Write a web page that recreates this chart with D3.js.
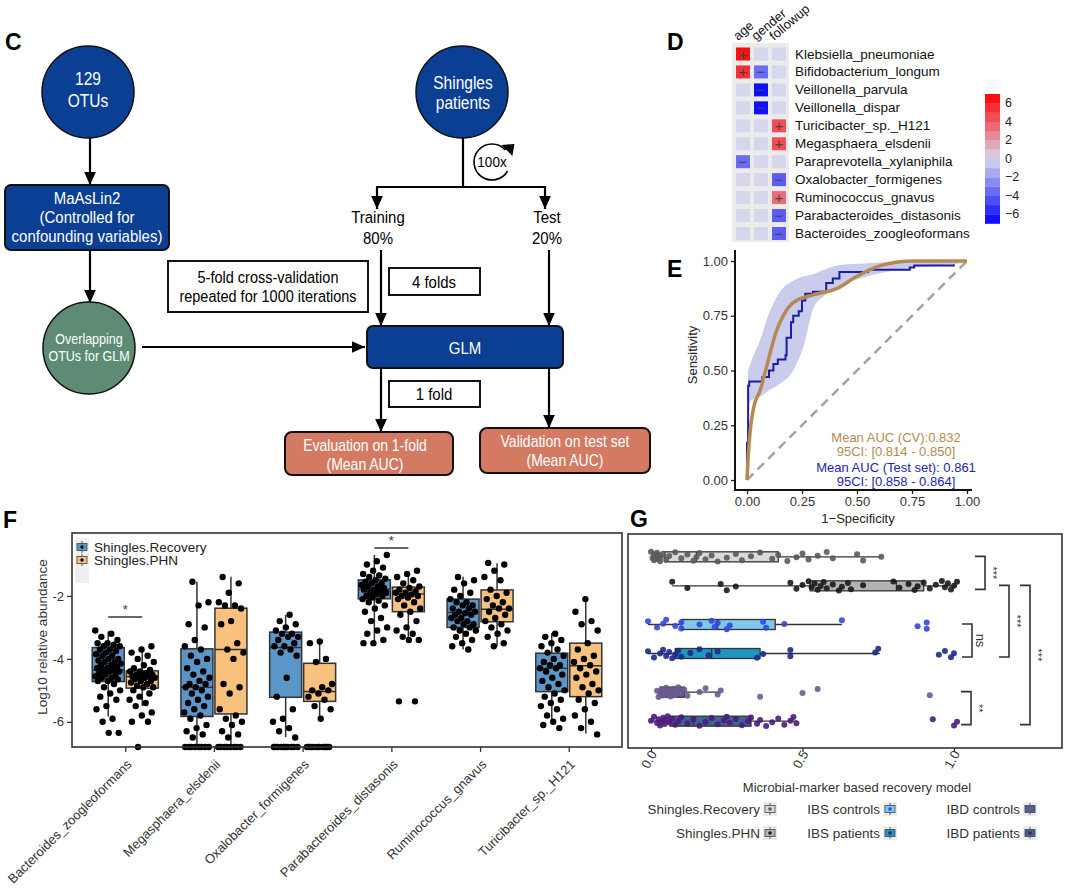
<!DOCTYPE html>
<html><head><meta charset="utf-8">
<script src="https://cdn.jsdelivr.net/npm/d3@7"></script>
<style>body{margin:0;background:#fff}svg{display:block}text{font-family:Arial,"Liberation Sans",sans-serif}</style>
</head><body><svg id="c" width="1080" height="891"></svg>
<script>
// ================= DATA =================
// Panel D heatmap
const hmRows = ["Klebsiella_pneumoniae","Bifidobacterium_longum","Veillonella_parvula","Veillonella_dispar","Turicibacter_sp._H121","Megasphaera_elsdenii","Paraprevotella_xylaniphila","Oxalobacter_formigenes","Ruminococcus_gnavus","Parabacteroides_distasonis","Bacteroides_zoogleoformans"];
const hmCols = ["age","gender","followup"];
const hmAge = [6.5,5.5,0,0,0,0,-3.5,0,0,0,0];
const hmGender = [0,-3.5,-6.5,-6.5,0,0,0,0,0,0,0];
const hmFollowup = [0,0,0,0,4.5,4.5,0,-4,3.5,-4,-4];
const hmLegendTicks = [6,4,2,0,-2,-4,-6];

// Panel E ROC
const rocTicks = [0,0.25,0.5,0.75,1];
const ciFpr  = [0.005,0.015,0.06,0.10,0.15,0.21,0.26,0.30,0.35,0.41,0.55,0.76,0.97,1.0];
const ciLow  = [0.33,0.36,0.38,0.41,0.44,0.50,0.62,0.78,0.84,0.88,0.93,0.97,0.99,1.0];
const ciHigh = [0.50,0.53,0.64,0.76,0.86,0.91,0.93,0.94,0.96,0.98,0.99,1.0,1.0,1.0];
const testFpr = [0,0,0.005,0.01,0.07,0.10,0.12,0.14,0.175,0.18,0.20,0.21,0.235,0.25,0.265,0.30,0.36,0.39,0.42,0.55,0.74,0.76,0.94];
const testTpr = [0,0.17,0.43,0.45,0.47,0.50,0.53,0.55,0.57,0.65,0.72,0.75,0.77,0.82,0.85,0.86,0.90,0.92,0.95,0.96,0.97,0.98,0.985];
const cvFpr = [0,0.005,0.015,0.03,0.06,0.10,0.13,0.17,0.21,0.30,0.41,0.50,0.61,0.76,1.0];
const cvTpr = [0,0.10,0.23,0.33,0.41,0.56,0.67,0.76,0.81,0.845,0.875,0.93,0.98,1.0,1.0];

// Panel F boxplots
const fCats = ["Bacteroides_zoogleoformans","Megasphaera_elsdenii","Oxalobacter_formigenes","Parabacteroides_distasonis","Ruminococcus_gnavus","Turicibacter_sp._H121"];
const fTicks = [-2,-4,-6];
// [lowerWhisker, q1, median, q3, upperWhisker]
const fRecStats = [[-5.83,-4.72,-4.35,-3.64,-3.13],[-6.8,-5.83,-4.9,-3.68,-1.55],[-6.49,-5.22,-3.64,-3.15,-2.6],[-3.48,-2.09,-1.79,-1.49,-0.7],[-3.7,-3.0,-2.53,-2.1,-1.39],[-6.05,-5.04,-4.3,-3.82,-3.18]];
const fPhnStats = [[-5.5,-4.93,-4.56,-4.38,-3.62],[-6.8,-5.75,-3.7,-2.39,-1.39],[-5.94,-5.35,-5.04,-4.14,-3.45],[-3.4,-2.5,-1.94,-1.72,-1.23],[-3.6,-2.82,-2.42,-1.81,-0.96],[-6.37,-5.2,-4.22,-3.5,-2.13]];
const fRecPoints = [
 [-3.1,-3.2,-3.3,-3.4,-3.5,-3.5,-3.55,-3.6,-3.6,-3.7,-3.7,-3.75,-3.8,-3.85,-3.9,-3.9,-4.0,-4.0,-4.05,-4.1,-4.1,-4.15,-4.2,-4.2,-4.25,-4.3,-4.3,-4.35,-4.35,-4.4,-4.4,-4.45,-4.5,-4.5,-4.55,-4.6,-4.6,-4.65,-4.7,-4.7,-4.8,-4.9,-5.0,-5.1,-5.2,-5.3,-5.5,-5.6,-5.9,-6.0,-6.35,-6.35],
 [-1.55,-2.2,-2.3,-2.9,-3.0,-3.4,-3.6,-3.7,-3.9,-4.0,-4.1,-4.3,-4.4,-4.5,-4.6,-4.7,-4.8,-4.8,-4.9,-4.9,-5.0,-5.1,-5.2,-5.3,-5.4,-5.5,-5.6,-5.7,-5.8,-5.9,-6.1,-6.2,-6.3,-6.4,-6.5,-6.8,-6.8,-6.8,-6.8,-6.8,-6.8,-6.8,-6.8],
 [-2.6,-2.8,-2.9,-3.0,-3.1,-3.2,-3.2,-3.3,-3.3,-3.4,-3.5,-3.6,-3.6,-3.7,-3.8,-3.9,-4.6,-5.2,-5.6,-5.9,-6.0,-6.2,-6.3,-6.5,-6.8,-6.8,-6.8,-6.8,-6.8,-6.8,-6.8,-6.8,-6.8,-6.8],
 [-0.7,-0.9,-1.0,-1.1,-1.2,-1.3,-1.35,-1.4,-1.45,-1.5,-1.55,-1.6,-1.6,-1.65,-1.7,-1.7,-1.75,-1.8,-1.8,-1.85,-1.9,-1.9,-1.95,-2.0,-2.0,-2.05,-2.1,-2.15,-2.2,-2.3,-2.4,-2.5,-2.7,-2.8,-3.0,-3.1,-3.2,-3.4,-3.5,-3.5],
 [-1.4,-1.5,-1.6,-1.8,-1.9,-2.0,-2.1,-2.2,-2.2,-2.3,-2.3,-2.4,-2.4,-2.5,-2.5,-2.55,-2.6,-2.6,-2.7,-2.7,-2.8,-2.8,-2.9,-2.9,-3.0,-3.0,-3.1,-3.1,-3.2,-3.3,-3.4,-3.5,-3.6,-3.7],
 [-3.2,-3.3,-3.4,-3.5,-3.6,-3.7,-3.8,-3.9,-4.0,-4.1,-4.2,-4.2,-4.3,-4.3,-4.4,-4.5,-4.6,-4.7,-4.8,-4.9,-5.0,-5.1,-5.2,-5.3,-5.4,-5.5,-5.6,-5.8,-5.9,-6.0,-6.1,-6.2]
];
const fPhnPoints = [
 [-3.6,-3.7,-3.8,-3.9,-4.0,-4.1,-4.2,-4.3,-4.35,-4.4,-4.4,-4.45,-4.5,-4.5,-4.5,-4.55,-4.55,-4.6,-4.6,-4.6,-4.65,-4.7,-4.7,-4.75,-4.8,-4.85,-4.9,-4.9,-5.0,-5.1,-5.2,-5.3,-5.4,-5.5,-5.7,-5.8,-6.0,-6.0,-6.8],
 [-1.4,-1.6,-1.9,-2.2,-2.3,-2.3,-2.4,-2.8,-2.9,-3.5,-3.7,-3.8,-4.0,-4.8,-4.9,-5.1,-5.6,-5.8,-5.9,-6.0,-6.1,-6.3,-6.4,-6.5,-6.8,-6.8,-6.8,-6.8,-6.8,-6.8,-6.8,-6.8],
 [-3.45,-3.5,-4.0,-4.1,-4.8,-4.9,-5.0,-5.0,-5.1,-5.2,-5.3,-5.5,-5.6,-5.9,-6.8,-6.8,-6.8,-6.8,-6.8,-6.8,-6.8,-6.8,-6.8,-6.8],
 [-1.2,-1.3,-1.4,-1.5,-1.6,-1.7,-1.75,-1.8,-1.85,-1.9,-1.9,-1.95,-2.0,-2.0,-2.05,-2.1,-2.2,-2.3,-2.4,-2.5,-2.6,-2.8,-3.0,-3.1,-3.2,-3.3,-3.4,-3.4,-5.35,-5.35],
 [-0.95,-1.0,-1.2,-1.4,-1.5,-1.8,-1.9,-2.0,-2.1,-2.2,-2.3,-2.4,-2.4,-2.5,-2.6,-2.7,-2.8,-2.9,-3.0,-3.1,-3.2,-3.3,-3.5,-3.6],
 [-2.1,-2.5,-2.8,-2.9,-3.1,-3.5,-3.7,-3.9,-4.0,-4.1,-4.2,-4.3,-4.4,-4.5,-4.6,-4.8,-4.9,-5.0,-5.1,-5.3,-5.4,-5.6,-5.8,-6.0,-6.2,-6.4]
];
const fGroups = ["Shingles.Recovery","Shingles.PHN"];

// Panel G
const gNames = ["Shingles.Recovery","Shingles.PHN","IBS controls","IBS patients","IBD controls","IBD patients"];
const gCategory = ["Shingles","Shingles","IBS","IBS","IBD","IBD"];
const gTicks = [0,0.5,1.0];
// [lowerWhisker, q1, median, q3, upperWhisker]
const gStats = [[0.0,0.046,0.15,0.42,0.76],[0.07,0.525,0.81,0.90,1.01],[-0.01,0.10,0.22,0.41,0.63],[-0.01,0.08,0.20,0.36,0.755],[0.02,0.03,0.07,0.11,0.23],[0.0,0.063,0.14,0.33,0.48]];
const gPoints = [
 [0.0,0.005,0.01,0.01,0.015,0.02,0.02,0.025,0.03,0.03,0.04,0.05,0.06,0.08,0.10,0.12,0.14,0.15,0.16,0.18,0.20,0.22,0.25,0.28,0.30,0.33,0.36,0.40,0.42,0.45,0.48,0.50,0.52,0.55,0.58,0.60,0.68,0.70,0.76],
 [0.07,0.12,0.23,0.25,0.28,0.46,0.48,0.50,0.52,0.53,0.54,0.55,0.56,0.57,0.58,0.60,0.62,0.63,0.65,0.66,0.70,0.80,0.82,0.85,0.87,0.88,0.90,0.92,0.94,0.96,0.97,0.98,0.99,1.0,1.01],
 [-0.01,0.02,0.04,0.05,0.08,0.10,0.10,0.16,0.20,0.21,0.22,0.25,0.26,0.37,0.38,0.44,0.63,0.88,0.91,0.91],
 [-0.01,0.01,0.03,0.04,0.05,0.06,0.07,0.08,0.09,0.10,0.13,0.16,0.19,0.22,0.35,0.37,0.46,0.46,0.74,0.75,0.95,0.97,0.99,1.0],
 [0.02,0.025,0.03,0.035,0.04,0.045,0.05,0.055,0.06,0.065,0.07,0.075,0.08,0.085,0.09,0.10,0.11,0.12,0.16,0.18,0.22,0.23,0.36,0.50,0.55,0.92],
 [0.0,0.01,0.02,0.025,0.03,0.035,0.04,0.045,0.05,0.055,0.06,0.07,0.08,0.09,0.10,0.12,0.14,0.16,0.18,0.20,0.22,0.24,0.25,0.26,0.28,0.30,0.32,0.33,0.35,0.36,0.38,0.40,0.42,0.44,0.46,0.47,0.48,0.93,1.0,1.01]
];
// brackets: [fromGroupIndex, toGroupIndex, label]
const gSig = [[0,1,"***"],[1,3,"***"],[1,5,"***"],[2,3,"ns"],[4,5,"**"]];

// ================= DRAW =================
const svg = d3.select("#c");
const BLUE="#0a3f94", GREEN="#5e8b74", SALMON="#d47a62";
const defs = svg.append("defs");
defs.append("marker").attr("id","ah").attr("viewBox","0 0 10 10").attr("refX",10).attr("refY",5)
  .attr("markerWidth",13).attr("markerHeight",13).attr("markerUnits","userSpaceOnUse").attr("orient","auto")
  .append("path").attr("d","M0,0.5L10,5L0,9.5Z").attr("fill","#000");

function label(x,y,s){svg.append("text").attr("x",x).attr("y",y).attr("font-size",23).attr("font-weight","bold").attr("fill","#000").text(s);}
function arrow(x1,y1,x2,y2){svg.append("line").attr("x1",x1).attr("y1",y1).attr("x2",x2).attr("y2",y2).attr("stroke","#000").attr("stroke-width",2.2).attr("marker-end","url(#ah)");}
// flowchart text is slightly stretched vertically, as in the reference figure
function lines(x,ys,arr,size,fill){arr.forEach((s,i)=>svg.append("text").attr("transform",`translate(${x},${ys[i]}) scale(1,1.14)`).attr("text-anchor","middle").attr("dominant-baseline","central").attr("font-size",size).attr("fill",fill).text(s));}
function node(x,y,w,h,fill,stroke,r){svg.append("rect").attr("x",x).attr("y",y).attr("width",w).attr("height",h).attr("rx",r).attr("fill",fill).attr("stroke",stroke).attr("stroke-width",2);}

// ---- Panel C
label(5,50,"C");
svg.append("circle").attr("cx",88).attr("cy",92).attr("r",46).attr("fill",BLUE).attr("stroke","#111").attr("stroke-width",1.5);
lines(88,[79,101],["129","OTUs"],15.5,"#fff");
arrow(90,138,90,185);
node(5,185,164,65,BLUE,"#111",6);
lines(87,[198,217,236],["MaAsLin2","(Controlled for","confounding variables)"],15,"#fff");
arrow(90,250,90,303);
svg.append("circle").attr("cx",89).attr("cy",348).attr("r",46).attr("fill",GREEN).attr("stroke","#111").attr("stroke-width",1.5);
lines(89,[339,356],["Overlapping","OTUs for GLM"],12.5,"#fff");
arrow(142,347,365,347);

svg.append("circle").attr("cx",462).attr("cy",92).attr("r",46).attr("fill",BLUE).attr("stroke","#111").attr("stroke-width",1.5);
lines(463,[83,103],["Shingles","patients"],15.5,"#fff");
svg.append("line").attr("x1",463).attr("y1",138).attr("x2",463).attr("y2",187).attr("stroke","#000").attr("stroke-width",2.2);
svg.append("line").attr("x1",376).attr("y1",187).attr("x2",546).attr("y2",187).attr("stroke","#000").attr("stroke-width",2.2);
arrow(377,186,377,209);
arrow(545,186,545,209);
// rotation icon
(function(){const cx=492,cy=162,r=18,a0=30*Math.PI/180,a1=318*Math.PI/180;
 svg.append("path").attr("d",`M${cx+r*Math.cos(a0)},${cy+r*Math.sin(a0)}A${r},${r} 0 1 1 ${cx+r*Math.cos(a1)},${cy+r*Math.sin(a1)}`)
  .attr("fill","none").attr("stroke","#000").attr("stroke-width",1.6);
 const ex=cx+r*Math.cos(a1), ey=cy+r*Math.sin(a1);
 svg.append("path").attr("d",`M${ex+7},${ey+6}L${ex-4},${ey-5}L${ex+9},${ey-6}Z`).attr("fill","#000");
 lines(cx,[cy],["100x"],13.5,"#000");})();
lines(378,[217,238],["Training","80%"],15,"#000");
lines(547,[217,238],["Test","20%"],15,"#000");
arrow(381,250,381,326);
arrow(549,250,549,326);
node(168,261,200,51,"#fff","#111",0);
lines(268,[277,296],["5-fold cross-validation","repeated for 1000 iterations"],14.5,"#000");
node(389,268,91,27,"#fff","#111",0);
lines(434,[282],["4 folds"],15,"#000");
node(367,326,196,42,BLUE,"#111",6);
lines(465,[348],["GLM"],15,"#fff");
arrow(381,368,381,432);
arrow(549,368,549,428);
node(389,381,91,26,"#fff","#111",0);
lines(434,[394],["1 fold"],15,"#000");
node(285,432,168,43,SALMON,"#111",7);
lines(365,[445,464],["Evaluation on 1-fold","(Mean AUC)"],14,"#fff");
node(480,428,170,45,SALMON,"#111",7);
lines(565,[441,460],["Validation on test set","(Mean AUC)"],14,"#fff");

// ---- Panel D heatmap
label(667,50,"D");
const hmVals = hmRows.map((r,i)=>[hmAge[i],hmGender[i],hmFollowup[i]]);
const hx = d3.scalePoint().domain(hmCols).range([743,779]);
const hy = d3.scalePoint().domain(hmRows).range([54,233.5]);
const hcol = d3.scaleLinear().domain([-7,0,7]).range(["#0000ff","#d6d7ed","#ff0000"]);
svg.append("rect").attr("x",732).attr("y",43).attr("width",57).attr("height",199).attr("fill","#ebebeb");
const hg = svg.append("g");
hmRows.forEach((r,i)=>hmCols.forEach((c,j)=>{
  const v=hmVals[i][j];
  hg.append("rect").attr("x",hx(c)-7).attr("y",hy(r)-6.5).attr("width",14).attr("height",13).attr("fill",hcol(v));
  if(v!==0) hg.append("text").attr("x",hx(c)).attr("y",hy(r)).attr("text-anchor","middle").attr("dominant-baseline","central")
     .attr("font-size",15).attr("fill","#444").text(v>0?"+":"\u2212");
}));
hmRows.forEach(r=>svg.append("text").attr("x",795).attr("y",hy(r)).attr("dominant-baseline","central").attr("font-size",13.5).attr("fill","#111").text(r));
hmCols.forEach(c=>svg.append("text").attr("transform",`translate(${hx(c)-5},41) rotate(-40)`).attr("font-size",13).attr("fill","#111").text(c));
// legend
const ly = d3.scaleLinear().domain([-7,7]).range([223.5,94]);
d3.range(-7,7).forEach(b=>svg.append("rect").attr("x",985).attr("y",ly(b+1)).attr("width",15).attr("height",ly(b)-ly(b+1)+0.3).attr("fill",hcol(b+0.5)));
hmLegendTicks.forEach(t=>svg.append("text").attr("x",1005).attr("y",ly(t)).attr("dominant-baseline","central").attr("font-size",12.5).attr("fill","#222").text(t<0?"\u2212"+(-t):t));

// ---- Panel E ROC
label(667,277,"E");
const ex = d3.scaleLinear().domain([0,1]).range([747,967]);
const ey = d3.scaleLinear().domain([0,1]).range([480,261]);
const ciData = ciFpr.map((f,i)=>({f,lo:ciLow[i],hi:ciHigh[i]}));
svg.append("path").datum(ciData).attr("d",d3.area().x(d=>ex(d.f)).y0(d=>ey(d.lo)).y1(d=>ey(d.hi)).curve(d3.curveMonotoneX))
  .attr("fill","#c6c9ea").attr("opacity",0.95);
svg.append("line").attr("x1",ex(0)).attr("y1",ey(0)).attr("x2",ex(1)).attr("y2",ey(1)).attr("stroke","#a3a3a3").attr("stroke-width",2.5).attr("stroke-dasharray","9,6");
svg.append("path").datum(testFpr.map((f,i)=>[f,testTpr[i]])).attr("d",d3.line().x(d=>ex(d[0])).y(d=>ey(d[1])).curve(d3.curveStepAfter))
  .attr("fill","none").attr("stroke","#1c1ca6").attr("stroke-width",2);
svg.append("path").datum(cvFpr.map((f,i)=>[f,cvTpr[i]])).attr("d",d3.line().x(d=>ex(d[0])).y(d=>ey(d[1])).curve(d3.curveMonotoneX))
  .attr("fill","none").attr("stroke","#b5894f").attr("stroke-width",3.5);
const eAxX = svg.append("g").attr("transform","translate(0,490)").call(d3.axisBottom(ex).tickValues(rocTicks).tickFormat(d3.format(".2f")).tickSize(4).tickSizeOuter(0));
const eAxY = svg.append("g").attr("transform","translate(735,0)").call(d3.axisLeft(ey).tickValues(rocTicks).tickFormat(d3.format(".2f")).tickSize(4).tickSizeOuter(0));
[eAxX,eAxY].forEach(a=>{a.select(".domain").remove();a.selectAll("text").attr("font-size",13).attr("fill","#333").attr("font-family",null);a.selectAll("line").attr("stroke","#222").attr("stroke-width",1.3);});
svg.append("line").attr("x1",735).attr("y1",250).attr("x2",735).attr("y2",491).attr("stroke","#111").attr("stroke-width",2);
svg.append("line").attr("x1",734).attr("y1",490).attr("x2",972).attr("y2",490).attr("stroke","#111").attr("stroke-width",2);
svg.append("text").attr("transform","translate(692,355) rotate(-90)").attr("text-anchor","middle").attr("dominant-baseline","central").attr("font-size",13).attr("fill","#222").text("Sensitivity");
svg.append("text").attr("x",858).attr("y",518).attr("text-anchor","middle").attr("dominant-baseline","central").attr("font-size",13).attr("fill","#222").text("1\u2212Specificity");
[["Mean AUC (CV):0.832","#b5894f",437],["95CI: [0.814 - 0.850]","#b5894f",451],["Mean AUC (Test set): 0.861","#2424b0",467],["95CI: [0.858 - 0.864]","#2424b0",481]]
 .forEach(d=>svg.append("text").attr("x",896).attr("y",d[2]).attr("text-anchor","middle").attr("dominant-baseline","central").attr("font-size",13).attr("fill",d[1]).text(d[0]));

// ---- Panel F
label(3,528,"F");
const fx = d3.scalePoint().domain(fCats).range([72,622]).padding(0.6);
const fy = d3.scaleLinear().domain([-6.8,0]).range([747,533]);
const FCOL=["#5b96c9","#f8c27e"];
const fg = svg.append("g");
const jit = i => (((i*0.6180339887)%1)-0.5);
function fBox(stats,cx,fill){
  const [lo,q1,md,q3,hi]=stats, w=32;
  fg.append("line").attr("x1",cx).attr("x2",cx).attr("y1",fy(hi)).attr("y2",fy(lo)).attr("stroke","#333").attr("stroke-width",1.5);
  fg.append("rect").attr("x",cx-w/2).attr("y",fy(q3)).attr("width",w).attr("height",fy(q1)-fy(q3)).attr("fill",fill).attr("stroke","#333").attr("stroke-width",1.5);
  fg.append("line").attr("x1",cx-w/2).attr("x2",cx+w/2).attr("y1",fy(md)).attr("y2",fy(md)).attr("stroke","#333").attr("stroke-width",1.5);
}
fCats.forEach((c,k)=>{
  fBox(fRecStats[k],fx(c)-17,FCOL[0]);
  fBox(fPhnStats[k],fx(c)+17,FCOL[1]);
});
fCats.forEach((c,k)=>{
  [[fRecPoints[k],-17],[fPhnPoints[k],17]].forEach(([pts,off],gi)=>{
    pts.forEach((v,i)=>fg.append("circle").attr("cx",fx(c)+off+jit(i+k*7+gi*3)*26).attr("cy",fy(v)).attr("r",3.2).attr("fill","#000"));
  });
});
svg.append("rect").attr("x",72).attr("y",533).attr("width",550).attr("height",214).attr("fill","none").attr("stroke","#333").attr("stroke-width",1.6);
const fAxY = svg.append("g").attr("transform","translate(72,0)").call(d3.axisLeft(fy).tickValues(fTicks).tickFormat(d=>String(d)).tickSize(5).tickSizeOuter(0));
const fAxX = svg.append("g").attr("transform","translate(0,747)").call(d3.axisBottom(fx).tickSize(5).tickSizeOuter(0).tickFormat(""));
[fAxY,fAxX].forEach(a=>{a.select(".domain").remove();a.selectAll("line").attr("stroke","#333").attr("stroke-width",1.3);a.selectAll("text").attr("font-size",13).attr("fill","#333").attr("font-family",null);});
fCats.forEach(c=>svg.append("text").attr("transform",`translate(${fx(c)+4},762) rotate(-45)`).attr("text-anchor","end").attr("dominant-baseline","central").attr("font-size",13).attr("fill","#333").text(c));
svg.append("text").attr("transform","translate(42,637) rotate(-90)").attr("text-anchor","middle").attr("dominant-baseline","central").attr("font-size",13.5).attr("fill","#333").text("Log10 relative abundance");
// significance
[[0,"*",617],[3,"*",548]].forEach(([k,s,yy])=>{
  svg.append("line").attr("x1",fx(fCats[k])-17).attr("x2",fx(fCats[k])+17).attr("y1",yy).attr("y2",yy).attr("stroke","#333").attr("stroke-width",1.4);
  svg.append("text").attr("x",fx(fCats[k])).attr("y",yy-3).attr("text-anchor","middle").attr("font-size",13).attr("fill","#333").text(s);
});
// legend
svg.append("rect").attr("x",75).attr("y",538).attr("width",14).attr("height",45).attr("fill","#efefef");
fGroups.forEach((g,i)=>{
  const yy=547+i*13;
  svg.append("line").attr("x1",82).attr("x2",82).attr("y1",yy-6).attr("y2",yy+6).attr("stroke","#555").attr("stroke-width",1);
  svg.append("rect").attr("x",77).attr("y",yy-3.5).attr("width",10).attr("height",7).attr("fill",FCOL[i]).attr("stroke","#444").attr("stroke-width",0.8);
  svg.append("circle").attr("cx",82).attr("cy",yy).attr("r",1.7).attr("fill","#000");
  svg.append("text").attr("x",94).attr("y",yy).attr("dominant-baseline","central").attr("font-size",13.5).attr("fill","#222").text(g);
});

// ---- Panel G
label(630,527,"G");
const gx = d3.scaleLinear().domain([0,1]).range([651,954]);
const gyCat = d3.scalePoint().domain(["Shingles","IBS","IBD"]).range([537.5,740.5]).padding(0.5);
const gy = i => gyCat(gCategory[i]) + (i%2===0?-14.5:14.5);
const GFILL=["#dadada","#b3b3b3","#7ec8ec","#1e96be","#4e5f95","#3d6590"];
const GPT=["#5a5a5a","#1a1a1a","#3446e0","#1b2a8a","#6b5b8e","#4a1a80"];
const gg = svg.append("g");
gStats.forEach((s,i)=>{
  const [lo,q1,md,q3,hi]=s, yy=gy(i), h=10;
  gg.append("line").attr("x1",gx(lo)).attr("x2",gx(hi)).attr("y1",yy).attr("y2",yy).attr("stroke","#333").attr("stroke-width",1.4);
  gg.append("rect").attr("x",gx(q1)).attr("y",yy-h/2).attr("width",gx(q3)-gx(q1)).attr("height",h).attr("fill",GFILL[i]).attr("stroke","#333").attr("stroke-width",1.3);
  gg.append("line").attr("x1",gx(md)).attr("x2",gx(md)).attr("y1",yy-h/2).attr("y2",yy+h/2).attr("stroke","#333").attr("stroke-width",1.3);
});
gPoints.forEach((pts,i)=>pts.forEach((v,j)=>gg.append("circle").attr("cx",gx(v)).attr("cy",gy(i)+jit(j+i*5)*10).attr("r",3).attr("fill",GPT[i]).attr("opacity",0.9)));
svg.append("rect").attr("x",628).attr("y",534).attr("width",434).attr("height",214).attr("fill","none").attr("stroke","#333").attr("stroke-width",1.6);
const gAx = svg.append("g").attr("transform","translate(0,748)").call(d3.axisBottom(gx).tickValues(gTicks).tickFormat(d3.format(".1f")).tickSize(4).tickSizeOuter(0));
gAx.select(".domain").remove();gAx.selectAll("line").attr("stroke","#333").attr("stroke-width",1.3);
gAx.selectAll("text").attr("font-size",13).attr("fill","#333").attr("font-family",null).attr("text-anchor","end").attr("dy",null).attr("y",8).attr("x",-2).attr("transform","rotate(-60)");
svg.append("text").attr("x",857).attr("y",787).attr("text-anchor","middle").attr("dominant-baseline","central").attr("font-size",13).attr("fill","#333").text("Microbial-marker based recovery model");
// brackets
const bx = [985,1009,1030,972,971];
gSig.forEach(([a,b,s],k)=>{
  const y1=gy(a)-0.5,y2=gy(b)+3.5,x=bx[k];
  svg.append("path").attr("d",`M${x-10},${y1}H${x}V${y2}H${x-10}`).attr("fill","none").attr("stroke","#333").attr("stroke-width",1.6);
  svg.append("text").attr("transform",`translate(${x+8},${(y1+y2)/2}) rotate(90)`).attr("text-anchor","middle").attr("dominant-baseline","central").attr("font-size",s==="ns"?13:11).attr("fill","#333").text(s);
});
// legend
const gLegX=[763,763,883,883,1023,1023], gLegY=[809,833,809,833,809,833];
gNames.forEach((n,i)=>{
  const x=gLegX[i], y=gLegY[i];
  svg.append("rect").attr("x",x).attr("y",y-7).attr("width",14).attr("height",14).attr("fill","#ebebeb");
  svg.append("line").attr("x1",x+7).attr("x2",x+7).attr("y1",y-6).attr("y2",y+6).attr("stroke","#444").attr("stroke-width",0.8);
  svg.append("rect").attr("x",x+2).attr("y",y-3.5).attr("width",10).attr("height",7).attr("fill",GFILL[i]).attr("stroke","#444").attr("stroke-width",0.8);
  svg.append("circle").attr("cx",x+7).attr("cy",y).attr("r",1.8).attr("fill",GPT[i]);
  svg.append("text").attr("x",x-3).attr("y",y).attr("text-anchor","end").attr("dominant-baseline","central").attr("font-size",13.5).attr("fill","#333").text(n);
});
</script></body></html>
